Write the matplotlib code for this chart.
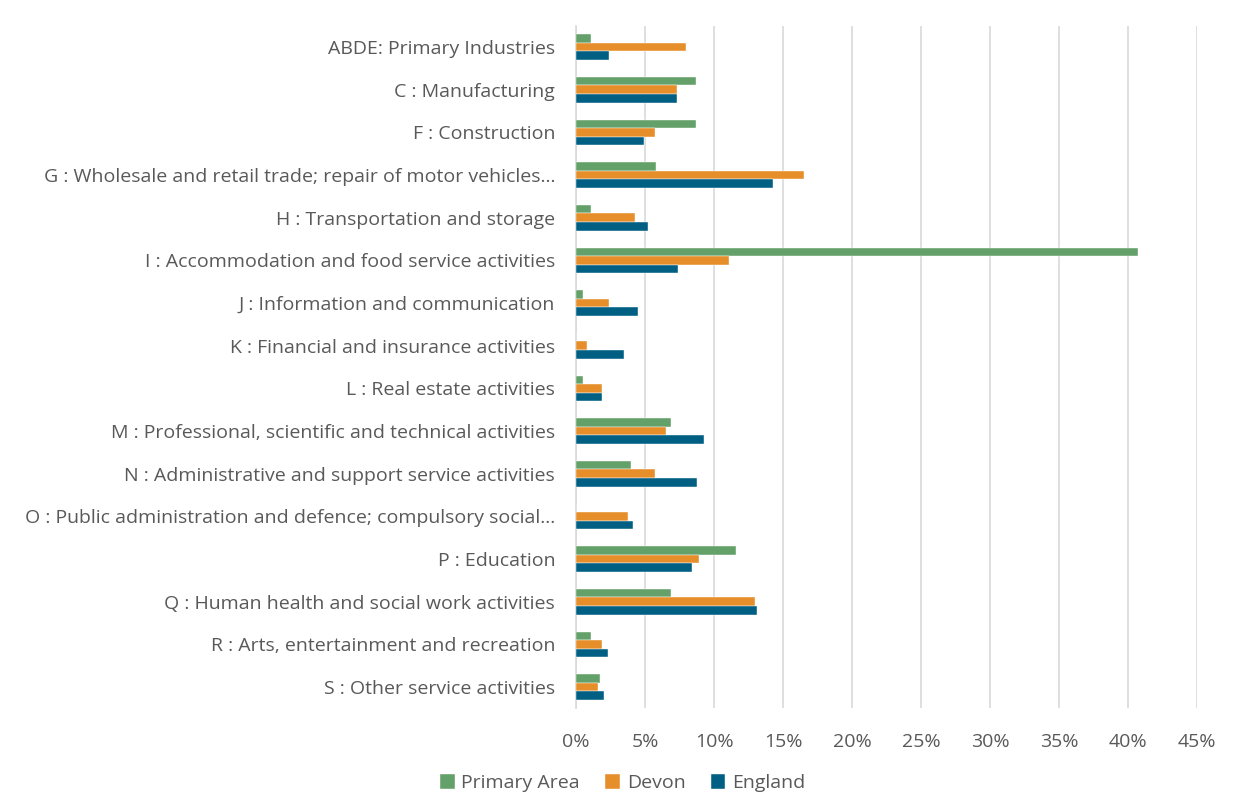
import matplotlib.pyplot as plt
import numpy as np

# Industry categories (top to bottom as shown)
categories = [
    "ABDE: Primary Industries",
    "C : Manufacturing",
    "F : Construction",
    "G : Wholesale and retail trade; repair of motor vehicles\u2026",
    "H : Transportation and storage",
    "I : Accommodation and food service activities",
    "J : Information and communication",
    "K : Financial and insurance activities",
    "L : Real estate activities",
    "M : Professional, scientific and technical activities",
    "N : Administrative and support service activities",
    "O : Public administration and defence; compulsory social\u2026",
    "P : Education",
    "Q : Human health and social work activities",
    "R : Arts, entertainment and recreation",
    "S : Other service activities",
]

# Share of employment (%)
primary_area = [1.1, 8.7, 8.7, 5.8, 1.1, 40.7, 0.5, 0.0, 0.5, 6.9, 4.0, 0.0, 11.6, 6.9, 1.1, 1.7]
devon = [8.0, 7.3, 5.7, 16.5, 4.3, 11.1, 2.4, 0.8, 1.9, 6.5, 5.7, 3.8, 8.9, 13.0, 1.9, 1.6]
england = [2.4, 7.3, 4.9, 14.3, 5.2, 7.4, 4.5, 3.5, 1.9, 9.3, 8.8, 4.1, 8.4, 13.1, 2.3, 2.0]

series_names = ["Primary Area", "Devon", "England"]
colors = ["#64A06A", "#E68E2A", "#015F83"]
text_color = "#595959"

plt.rcParams['font.family'] = ['Open Sans', 'DejaVu Sans']

fig = plt.figure(figsize=(12.38, 8.05), dpi=100)
ax = fig.add_axes([0.4653, 0.12, 0.5016, 0.848])

y = np.arange(len(categories))
h = 0.2
for i, (vals, name, col) in enumerate(zip([primary_area, devon, england], series_names, colors)):
    ax.barh(y + (i - 1) * h, vals, height=h, color=col, label=name,
            edgecolor="white", linewidth=0.3, zorder=3)

ax.set_xlim(0, 45)
ax.set_ylim(len(categories) - 0.5, -0.5)
ax.set_xticks(np.arange(0, 46, 5))
ax.set_xticklabels([f"{v}%" for v in range(0, 46, 5)])
ax.set_yticks(y)
ax.set_yticklabels(categories)

ax.grid(axis="x", color="#D9D9D9", linewidth=1.2, zorder=0)
for s in ["top", "right", "bottom"]:
    ax.spines[s].set_visible(False)
ax.spines["left"].set_color("#D9D9D9")
ax.spines["left"].set_linewidth(1.2)
ax.tick_params(axis="both", length=0, labelsize=14, labelcolor=text_color)
ax.tick_params(axis="x", pad=18)
ax.tick_params(axis="y", pad=15)

fig.legend(loc="center", bbox_to_anchor=(0.503, 0.027), ncol=3, frameon=False,
           fontsize=14, labelcolor=text_color, handlelength=0.75, handleheight=0.75,
           handletextpad=0.35, columnspacing=1.3)

fig.savefig("out.png", dpi=100)
